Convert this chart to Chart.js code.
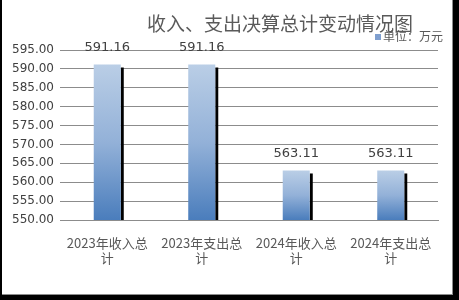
<!DOCTYPE html>
<html>
<head>
    <title>收入、支出决算总计变动情况图</title>
    <script src="https://cdn.jsdelivr.net/npm/chart.js"></script>
    <style>
        body { margin: 0; background: #000; }
        .frame { position: absolute; left: 2px; top: 0; width: 450px; height: 294px; background: #fff;
                 border-right: 1px solid #8c8c8c; border-bottom: 1px solid #8c8c8c; }
    </style>
</head>
<body>
    <div class="frame"><canvas id="budgetChart"></canvas></div>

    <script>
        // chart data
        const categories = [['2023年收入总', '计'], ['2023年支出总', '计'], ['2024年收入总', '计'], ['2024年支出总', '计']];
        const totals = [591.16, 591.16, 563.11, 563.11];
        const yTicks = [550, 555, 560, 565, 570, 575, 580, 585, 590, 595];
        const chartTitle = '收入、支出决算总计变动情况图';
        const unitLabel = '单位：万元';

        const cjk = '"Noto Sans CJK SC", "Liberation Sans", sans-serif';
        const nums = '"DejaVu Sans", sans-serif';

        // vertical gradient per bar, from its top to the base line
        function barFill(context) {
            const chart = context.chart;
            if (!chart.chartArea) return '#7a9fce';
            const y = chart.scales.y;
            const top = y.getPixelForValue(context.parsed ? context.parsed.y : totals[context.dataIndex]);
            const bottom = y.getPixelForValue(yTicks[0]);
            const g = chart.ctx.createLinearGradient(0, top, 0, bottom);
            g.addColorStop(0, '#bacee6');
            g.addColorStop(0.5, '#93b1d8');
            g.addColorStop(1, '#4a7dbc');
            return g;
        }

        // black drop shadow on the right side of each bar + value labels
        const barDecor = {
            id: 'barDecor',
            beforeDatasetsDraw(chart) {
                const ctx = chart.ctx;
                const bottom = chart.chartArea.bottom;
                ctx.save();
                ctx.fillStyle = '#000';
                chart.getDatasetMeta(0).data.forEach(bar => {
                    const right = bar.x + bar.width / 2;
                    ctx.fillRect(right, bar.y + 3, 3, bottom - bar.y - 3);
                });
                ctx.restore();
            },
            afterDatasetsDraw(chart) {
                const ctx = chart.ctx;
                ctx.save();
                ctx.font = '13px ' + nums;
                ctx.fillStyle = '#404040';
                ctx.textAlign = 'center';
                ctx.textBaseline = 'middle';
                chart.getDatasetMeta(0).data.forEach((bar, i) => {
                    ctx.fillText(totals[i].toFixed(2), bar.x, bar.y - 17);
                });
                ctx.restore();
            },
            afterDraw(chart) {
                const ctx = chart.ctx;
                ctx.save();
                // title
                ctx.font = '19px ' + cjk;
                ctx.fillStyle = '#5a5a5a';
                ctx.textAlign = 'center';
                ctx.textBaseline = 'middle';
                ctx.fillText(chartTitle, 278, 24);
                // unit legend
                ctx.fillStyle = '#7f9fcf';
                ctx.fillRect(373, 34, 6, 6);
                ctx.font = '12px ' + cjk;
                ctx.fillStyle = '#595959';
                ctx.textAlign = 'left';
                ctx.fillText(unitLabel, 381, 36);
                ctx.restore();
            }
        };

        const ctx = document.getElementById('budgetChart').getContext('2d');
        new Chart(ctx, {
            type: 'bar',
            data: {
                labels: categories,
                datasets: [{
                    label: unitLabel,
                    data: totals,
                    backgroundColor: barFill,
                    borderWidth: 0,
                    categoryPercentage: 1,
                    barPercentage: 0.286
                }]
            },
            options: {
                responsive: true,
                maintainAspectRatio: false,
                animation: false,
                layout: { padding: { top: 50, right: 14, bottom: 0, left: 0 } },
                plugins: {
                    legend: { display: false },
                    title: { display: false },
                    tooltip: { enabled: false }
                },
                scales: {
                    y: {
                        min: yTicks[0],
                        max: yTicks[yTicks.length - 1],
                        afterBuildTicks: s => { s.ticks = yTicks.map(v => ({ value: v })); },
                        afterFit: s => { s.width = 58; },
                        ticks: {
                            callback: v => Number(v).toFixed(2),
                            color: '#404040',
                            font: { family: nums, size: 12 },
                            padding: 6
                        },
                        grid: { color: '#8c8c8c', drawTicks: false },
                        border: { display: false }
                    },
                    x: {
                        afterFit: s => { s.height = 74; },
                        ticks: {
                            color: '#595959',
                            font: { family: cjk, size: 13, lineHeight: 1.15 },
                            padding: 8,
                            maxRotation: 0
                        },
                        grid: { display: false },
                        border: { color: '#8c8c8c' }
                    }
                }
            },
            plugins: [barDecor]
        });
    </script>
</body>
</html>
